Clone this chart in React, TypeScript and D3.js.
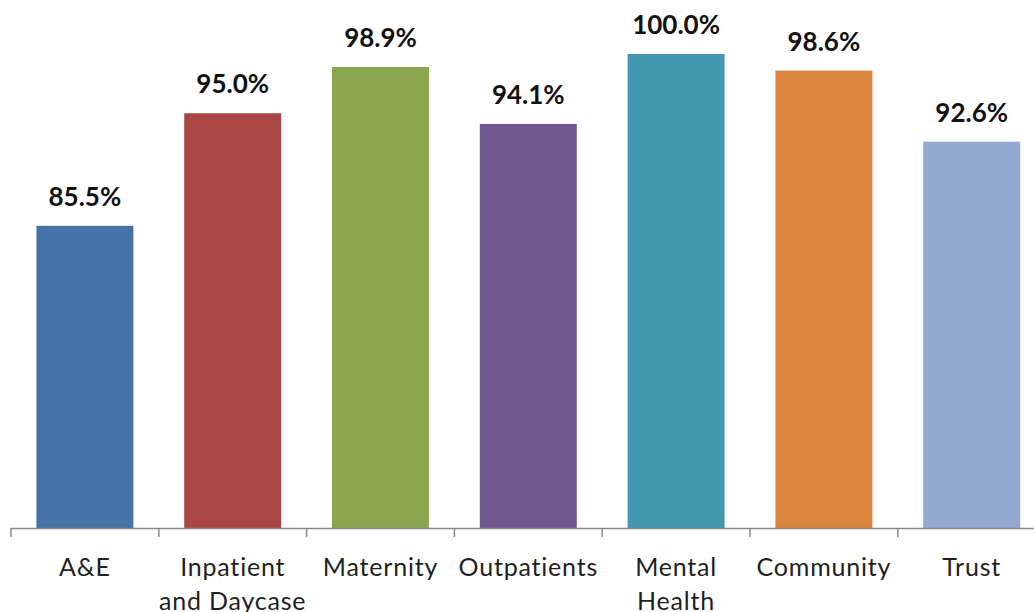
import React from "react";
import * as d3 from "d3";

const categories: string[][] = [
  ["A&E"],
  ["Inpatient", "and Daycase"],
  ["Maternity"],
  ["Outpatients"],
  ["Mental", "Health"],
  ["Community"],
  ["Trust"],
];
const values: number[] = [85.5, 95.0, 98.9, 94.1, 100.0, 98.6, 92.6];
const colors: string[] = ["#4572A7", "#AA4643", "#89A54E", "#71588F", "#4198AF", "#DB843D", "#93A9CF"];

const W = 1034;
const H = 612;
const baseY = 528;
const topY = 54;
const left = 11;
const step = 147.8;

export default function App() {
  const keys = categories.map((c) => c.join(" "));
  const x = d3
    .scaleBand<string>()
    .domain(keys)
    .range([left, left + step * keys.length])
    .paddingInner(0.344)
    .paddingOuter(0.172);
  const y = d3.scaleLinear().domain([60, 100]).range([baseY, topY]);
  const bw = x.bandwidth();
  const st = x.step();
  const font = "Lato, 'Open Sans', sans-serif";

  return (
    <svg
      width={W}
      height={H}
      style={{ position: "absolute", left: 0, top: 0, background: "#fff" }}
    >
      {keys.map((k, i) => (
        <g key={k}>
          <rect x={x(k)} y={y(values[i])} width={bw} height={baseY - y(values[i])} fill={colors[i]} />
          <text
            x={(x(k) as number) + bw / 2}
            y={y(values[i]) - 20}
            textAnchor="middle"
            fontFamily={font}
            fontWeight={700}
            fontSize={26}
            fill="#111"
          >
            {d3.format(".1f")(values[i]) + "%"}
          </text>
          {categories[i].map((line, j) => (
            <text
              key={j}
              x={(x(k) as number) + bw / 2}
              y={576 + j * 34}
              textAnchor="middle"
              fontFamily={font}
              fontSize={25}
              letterSpacing={0.8}
              fill="#1f1f1f"
            >
              {line}
            </text>
          ))}
        </g>
      ))}
      <line x1={left} x2={left + st * keys.length} y1={baseY + 0.5} y2={baseY + 0.5} stroke="#898989" strokeWidth={1.5} />
      {d3.range(keys.length + 1).map((i) => (
        <line
          key={i}
          x1={left + i * st}
          x2={left + i * st}
          y1={baseY}
          y2={baseY + 9}
          stroke="#898989"
          strokeWidth={1.5}
        />
      ))}
    </svg>
  );
}
